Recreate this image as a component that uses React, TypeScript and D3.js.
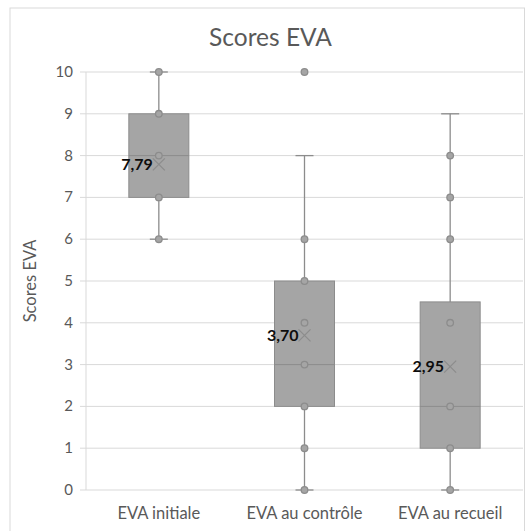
import React from "react";
import * as d3 from "d3";

const categories = ["EVA initiale", "EVA au contrôle", "EVA au recueil"];
const whiskerLow = [6, 0, 0];
const q1 = [7, 2, 1];
const medians = [8, 3, 2];
const q3 = [9, 5, 4.5];
const whiskerHigh = [10, 8, 9];
const means = [7.79, 3.7, 2.95];
const meanLabels = ["7,79", "3,70", "2,95"];
const pointsInitiale = [6, 7, 8, 9, 10];
const pointsControle = [0, 1, 2, 3, 4, 5, 6, 10];
const pointsRecueil = [0, 1, 2, 4, 6, 7, 8];
const points = [pointsInitiale, pointsControle, pointsRecueil];
const yTicks = [0, 1, 2, 3, 4, 5, 6, 7, 8, 9, 10];

const W = 526;
const H = 531;
const M = { left: 86, right: 3, top: 72, bottom: 41 };
const FONT = "Lato, 'Open Sans', sans-serif";

export default function App() {
  const x = d3
    .scaleBand<string>()
    .domain(categories)
    .range([M.left, W - M.right])
    .paddingInner(0)
    .paddingOuter(0);
  const y = d3.scaleLinear().domain([0, 10]).range([H - M.bottom, M.top]);
  const boxW = 60;
  const capW = 18;

  return (
    <svg
      width={W}
      height={H}
      style={{ position: "absolute", left: 0, top: 0, background: "#fff" }}
      fontFamily={FONT}
    >
      <rect x={10} y={8} width={514.5} height={540} fill="#fff" stroke="#d9d9d9" strokeWidth={1} />
      <text x={270.5} y={46} textAnchor="middle" fontSize={24.5} fill="#595959">
        Scores EVA
      </text>
      {yTicks.map((t) => (
        <g key={t}>
          <line x1={M.left} x2={W - M.right} y1={y(t)} y2={y(t)} stroke="#d9d9d9" strokeWidth={1} />
          <line x1={80} x2={M.left} y1={y(t)} y2={y(t)} stroke="#d9d9d9" strokeWidth={1} />
          <text x={73} y={y(t) + 5} textAnchor="end" fontSize={15} fill="#595959">
            {t}
          </text>
        </g>
      ))}
      <line x1={M.left} x2={M.left} y1={y(10)} y2={y(0)} stroke="#d9d9d9" strokeWidth={1} />
      <text
        transform={`translate(36,${(y(0) + y(10)) / 2}) rotate(-90)`}
        textAnchor="middle"
        fontSize={16.5}
        fill="#595959"
      >
        Scores EVA
      </text>
      {categories.map((c, i) => {
        const cx = (x(c) as number) + x.bandwidth() / 2;
        return (
          <g key={c}>
            <line x1={cx} x2={cx} y1={y(whiskerHigh[i])} y2={y(q3[i])} stroke="#8c8c8c" strokeWidth={1.3} />
            <line x1={cx} x2={cx} y1={y(q1[i])} y2={y(whiskerLow[i])} stroke="#8c8c8c" strokeWidth={1.3} />
            <line x1={cx - capW / 2} x2={cx + capW / 2} y1={y(whiskerHigh[i])} y2={y(whiskerHigh[i])} stroke="#8c8c8c" strokeWidth={1.3} />
            <line x1={cx - capW / 2} x2={cx + capW / 2} y1={y(whiskerLow[i])} y2={y(whiskerLow[i])} stroke="#8c8c8c" strokeWidth={1.3} />
            <rect
              x={cx - boxW / 2}
              y={y(q3[i])}
              width={boxW}
              height={y(q1[i]) - y(q3[i])}
              fill="#a5a5a5"
              stroke="#8c8c8c"
              strokeWidth={1}
            />
            <line x1={cx - boxW / 2} x2={cx + boxW / 2} y1={y(medians[i])} y2={y(medians[i])} stroke="#8c8c8c" strokeWidth={1} />
            {points[i].map((p, j) => (
              <circle key={j} cx={cx} cy={y(p)} r={3.3} fill="#a5a5a5" stroke="#8c8c8c" strokeWidth={1.3} />
            ))}
            <path
              d={`M${cx - 6},${y(means[i]) - 6}L${cx + 6},${y(means[i]) + 6}M${cx - 6},${y(means[i]) + 6}L${cx + 6},${y(means[i]) - 6}`}
              stroke="#8c8c8c"
              strokeWidth={1.2}
              fill="none"
            />
            <text x={cx - 6} y={y(means[i]) + 5.5} textAnchor="end" fontSize={16} fontWeight="bold" fill="#0d0d0d">
              {meanLabels[i]}
            </text>
            <text x={cx} y={H - 12} textAnchor="middle" fontSize={16.5} fill="#595959">
              {c}
            </text>
          </g>
        );
      })}
    </svg>
  );
}
